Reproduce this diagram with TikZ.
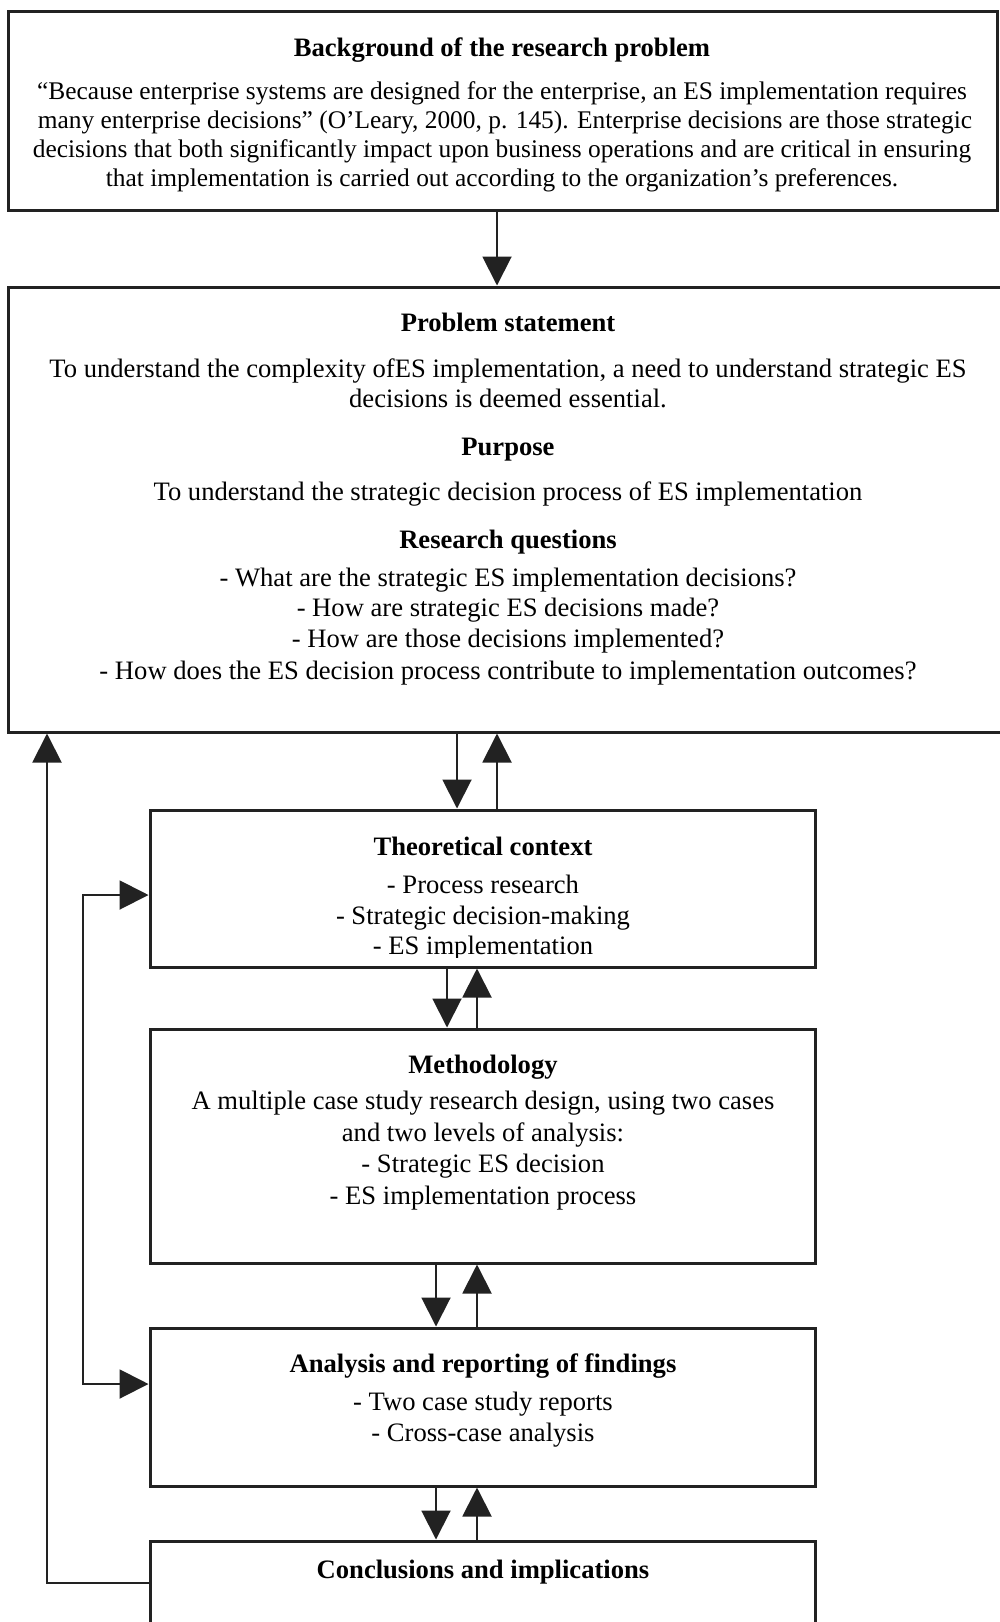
\documentclass[tikz,border=0pt]{standalone}
\usepackage{fontspec}
\setmainfont{Liberation Serif}
\usetikzlibrary{arrows.meta}
\definecolor{linec}{HTML}{222222}
\begin{document}
\begin{tikzpicture}[x=0.5pt,y=-0.5pt,
  box/.style={draw=linec, line width=1.5pt, inner sep=0pt},
  hd/.style={font=\bfseries\fontsize{13.3}{15}\selectfont, text height=9.3pt, text depth=2.7pt, inner sep=0pt, yshift=-1.5pt},
  tx/.style={font=\fontsize{13.3}{15}\selectfont, text height=9.3pt, text depth=2.7pt, inner sep=0pt, yshift=-1.5pt},
  txs/.style={font=\fontsize{12.7}{15}\selectfont, text height=8.9pt, text depth=2.5pt, inner sep=0pt, yshift=-1pt},
  conn/.style={draw=linec, line width=1pt, -{Triangle[length=14.5pt,width=14.5pt]}},
  dconn/.style={draw=linec, line width=1pt, {Triangle[length=14.5pt,width=14.5pt]}-{Triangle[length=14.5pt,width=14.5pt]}}]
\useasboundingbox (0,0) rectangle (1000,1622);
\clip (0,0) rectangle (1000,1622);

% boxes
\node[box, minimum width=494.5pt, minimum height=99.5pt] (bg) at (502.5,110.5) {};
\node[box, minimum width=501pt, minimum height=222.5pt] (ps) at (509,509.5) {};
\node[box, minimum width=332.5pt, minimum height=78.5pt] (tc) at (482.5,888.5) {};
\node[box, minimum width=332.5pt, minimum height=117pt] (me) at (482.5,1146) {};
\node[box, minimum width=332.5pt, minimum height=79pt] (an) at (482.5,1407) {};
\node[box, minimum width=332.5pt, minimum height=42pt] (co) at (482.5,1583) {};

% background of the research problem
\node[hd] (bgT) at (502,46.5) {Background of the research problem};
\node[txs] (bg1) at (502,91) {“Because enterprise systems are designed for the enterprise, an ES implementation requires};
\node[txs] (bg2) at (505,120) {many enterprise decisions” (O'Leary, 2000, p. 145). Enterprise decisions are those strategic};
\node[txs] (bg3) at (502,149) {decisions that both significantly impact upon business operations and are critical in ensuring};
\node[txs] (bg4) at (502,178) {that implementation is carried out according to the organization’s preferences.};

% problem statement, purpose, research questions
\node[hd] (psT) at (508,322) {Problem statement};
\node[tx] (ps1) at (508,368) {To understand the complexity ofES implementation, a need to understand strategic ES};
\node[tx] (ps2) at (508,398) {decisions is deemed essential.};
\node[hd] (puT) at (508,446) {Purpose};
\node[tx] (pu1) at (508,491) {To understand the strategic decision process of ES implementation};
\node[hd] (rqT) at (508,539) {Research questions};
\node[tx] (rq1) at (508,577) {- What are the strategic ES implementation decisions?};
\node[tx] (rq2) at (508,607) {- How are strategic ES decisions made?};
\node[tx] (rq3) at (508,638) {- How are those decisions implemented?};
\node[tx] (rq4) at (508,670) {- How does the ES decision process contribute to implementation outcomes?};

% theoretical context
\node[hd] (tcT) at (483,846) {Theoretical context};
\node[tx] (tc1) at (483,884) {- Process research};
\node[tx] (tc2) at (483,915) {- Strategic decision-making};
\begin{scope}
  \clip (150,930) rectangle (815,957);
  \node[tx] (tc3) at (483,945) {- ES implementation};
\end{scope}

% methodology
\node[hd] (meT) at (483,1064) {Methodology};
\node[tx] (me1) at (483,1100) {A multiple case study research design, using two cases};
\node[tx] (me2) at (483,1132) {and two levels of analysis:};
\node[tx] (me3) at (483,1163) {- Strategic ES decision};
\node[tx] (me4) at (483,1195) {- ES implementation process};

% analysis
\node[hd] (anT) at (483,1363) {Analysis and reporting of findings};
\node[tx] (an1) at (483,1401) {- Two case study reports};
\node[tx] (an2) at (483,1432) {- Cross-case analysis};

% conclusions
\node[hd] (coT) at (483,1569) {Conclusions and implications};

% connectors
\coordinate (a0) at ([xshift=-2.75pt]bg.south);
\draw[conn] (a0) -- (a0 |- ps.north);

\coordinate (d1) at ([xshift=-12.75pt]tc.north);
\coordinate (u1) at ([xshift=7.25pt]tc.north);
\draw[conn] (d1 |- ps.south) -- (d1);
\draw[conn] (u1) -- (u1 |- ps.south);

\coordinate (d2) at ([xshift=-17.75pt]me.north);
\coordinate (u2) at ([xshift=-2.75pt]me.north);
\draw[conn] (d2 |- tc.south) -- (d2);
\draw[conn] (u2) -- (u2 |- tc.south);

\coordinate (d3) at ([xshift=-23.25pt]an.north);
\coordinate (u3) at ([xshift=-2.75pt]an.north);
\draw[conn] (d3 |- me.south) -- (d3);
\draw[conn] (u3) -- (u3 |- me.south);

\coordinate (d4) at ([xshift=-23.25pt]co.north);
\coordinate (u4) at ([xshift=-2.75pt]co.north);
\draw[conn] (d4 |- an.south) -- (d4);
\draw[conn] (u4) -- (u4 |- an.south);

% outer feedback loop
\coordinate (lx) at (47,0);
\draw[conn] (co.west) -- (lx |- co.west) -- (lx |- ps.south);

% inner loop between theory and analysis
\coordinate (ix) at (83,0);
\coordinate (tcw) at ([yshift=-3.25pt]tc.west);
\coordinate (anw) at ([yshift=11.5pt]an.west);
\draw[dconn] (tcw) -- (ix |- tcw) -- (ix |- anw) -- (anw);
\end{tikzpicture}
\end{document}
